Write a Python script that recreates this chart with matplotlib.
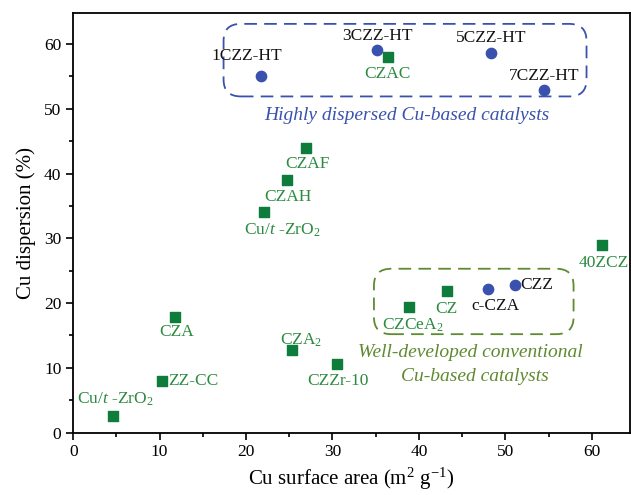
import matplotlib
matplotlib.use('Agg')
import matplotlib.pyplot as plt
from matplotlib.patches import FancyBboxPatch
from matplotlib.ticker import MultipleLocator

plt.rcParams['font.family'] = ['Liberation Serif', 'DejaVu Serif']
plt.rcParams['mathtext.fontset'] = 'custom'
plt.rcParams['mathtext.rm'] = 'Liberation Serif'
plt.rcParams['mathtext.it'] = 'Liberation Serif:italic'

# Cu-ZnO-ZrO2 series (circles)
circ_names = ['1CZZ-HT', '3CZZ-HT', '5CZZ-HT', '7CZZ-HT', 'c-CZA', 'CZZ']
circ_area = [21.7, 35.1, 48.4, 54.5, 48.0, 51.1]
circ_disp = [55.0, 59.1, 58.6, 52.9, 22.1, 22.8]

# literature catalysts (squares)
sq_names = ['CZAC', 'CZAF', 'CZAH', 'Cu/$t$ -ZrO$_2$', 'CZA', 'ZZ-CC',
            'Cu/$t$ -ZrO$_2$ ', 'CZA$_2$', 'CZZr-10', '40ZCZ', 'CZCeA$_2$', 'CZ']
sq_area = [36.4, 26.9, 24.7, 22.1, 11.8, 10.3, 4.6, 25.3, 30.5, 61.2, 38.8, 43.2]
sq_disp = [58.0, 44.0, 39.0, 34.0, 17.9, 8.0, 2.6, 12.8, 10.6, 29.0, 19.4, 21.8]

blue = '#3a52ad'
green = '#0e7d3c'
green_txt = '#2a8a3e'
olive = '#5f8a30'

# label offsets in points, and alignment
circ_off = {
    '1CZZ-HT': (-10, 15, 'center'),
    '3CZZ-HT': (1, 10, 'center'),
    '5CZZ-HT': (0, 11, 'center'),
    '7CZZ-HT': (0, 10, 'center'),
    'c-CZA': (5, -12, 'center'),
    'CZZ': (4, 0, 'left'),
}
sq_off = {
    'CZAC': (0, -12, 'center'),
    'CZAF': (1, -12, 'center'),
    'CZAH': (1, -12, 'center'),
    'Cu/$t$ -ZrO$_2$': (13, -13, 'center'),
    'CZA': (1, -11, 'center'),
    'ZZ-CC': (4, 0, 'left'),
    'Cu/$t$ -ZrO$_2$ ': (-26, 12, 'left'),
    'CZA$_2$': (7, 7, 'center'),
    'CZZr-10': (1, -12, 'center'),
    '40ZCZ': (1, -13, 'center'),
    'CZCeA$_2$': (3, -13, 'center'),
    'CZ': (0, -13, 'center'),
}

fig, ax = plt.subplots(figsize=(6.31, 4.95), dpi=100)
fig.subplots_adjust(left=0.116, right=0.998, top=0.974, bottom=0.126)

ax.scatter(circ_area, circ_disp, marker='o', s=55, color=blue, zorder=3)
ax.scatter(sq_area, sq_disp, marker='s', s=42, color=green, zorder=3)

for n, x, y in zip(circ_names, circ_area, circ_disp):
    dx, dy, ha = circ_off[n]
    ax.annotate(n, (x, y), xytext=(dx, dy), textcoords='offset points',
                ha=ha, va='center', fontsize=12.5, color='#111111')
for n, x, y in zip(sq_names, sq_area, sq_disp):
    dx, dy, ha = sq_off[n]
    ax.annotate(n.strip(), (x, y), xytext=(dx, dy), textcoords='offset points',
                ha=ha, va='center', fontsize=12.5, color=green_txt)

# group boxes
box1 = FancyBboxPatch((17.4, 51.9), 42.0, 11.2, boxstyle='round,pad=0,rounding_size=2.0',
                      fill=False, ec=blue, lw=1.3, ls=(0, (7, 4)), mutation_aspect=1.3)
box2 = FancyBboxPatch((34.8, 15.2), 23.1, 10.1, boxstyle='round,pad=0,rounding_size=2.0',
                      fill=False, ec=olive, lw=1.3, ls=(0, (7, 4)), mutation_aspect=1.3)
ax.add_patch(box1)
ax.add_patch(box2)

ax.text(38.6, 49.0, 'Highly dispersed Cu-based catalysts', style='italic',
        color=blue, fontsize=14, ha='center', va='center')
ax.text(45.9, 12.4, 'Well-developed conventional', style='italic',
        color=olive, fontsize=14, ha='center', va='center')
ax.text(46.5, 8.7, 'Cu-based catalysts', style='italic',
        color=olive, fontsize=14, ha='center', va='center')

ax.set_xlim(0, 64.4)
ax.set_ylim(0, 64.8)
ax.xaxis.set_major_locator(MultipleLocator(10))
ax.xaxis.set_minor_locator(MultipleLocator(5))
ax.yaxis.set_major_locator(MultipleLocator(10))
ax.yaxis.set_minor_locator(MultipleLocator(5))
ax.tick_params(which='both', direction='out', top=False, right=False, labelsize=12.5)
ax.tick_params(which='major', length=5, width=1.2)
ax.tick_params(which='minor', length=3, width=1.2)
for s in ax.spines.values():
    s.set_linewidth(1.3)

ax.set_xlabel('Cu surface area (m$^2$ g$^{-1}$)', fontsize=15, labelpad=4)
ax.set_ylabel('Cu dispersion (%)', fontsize=15, labelpad=6)

fig.savefig('out.png', dpi=100)
